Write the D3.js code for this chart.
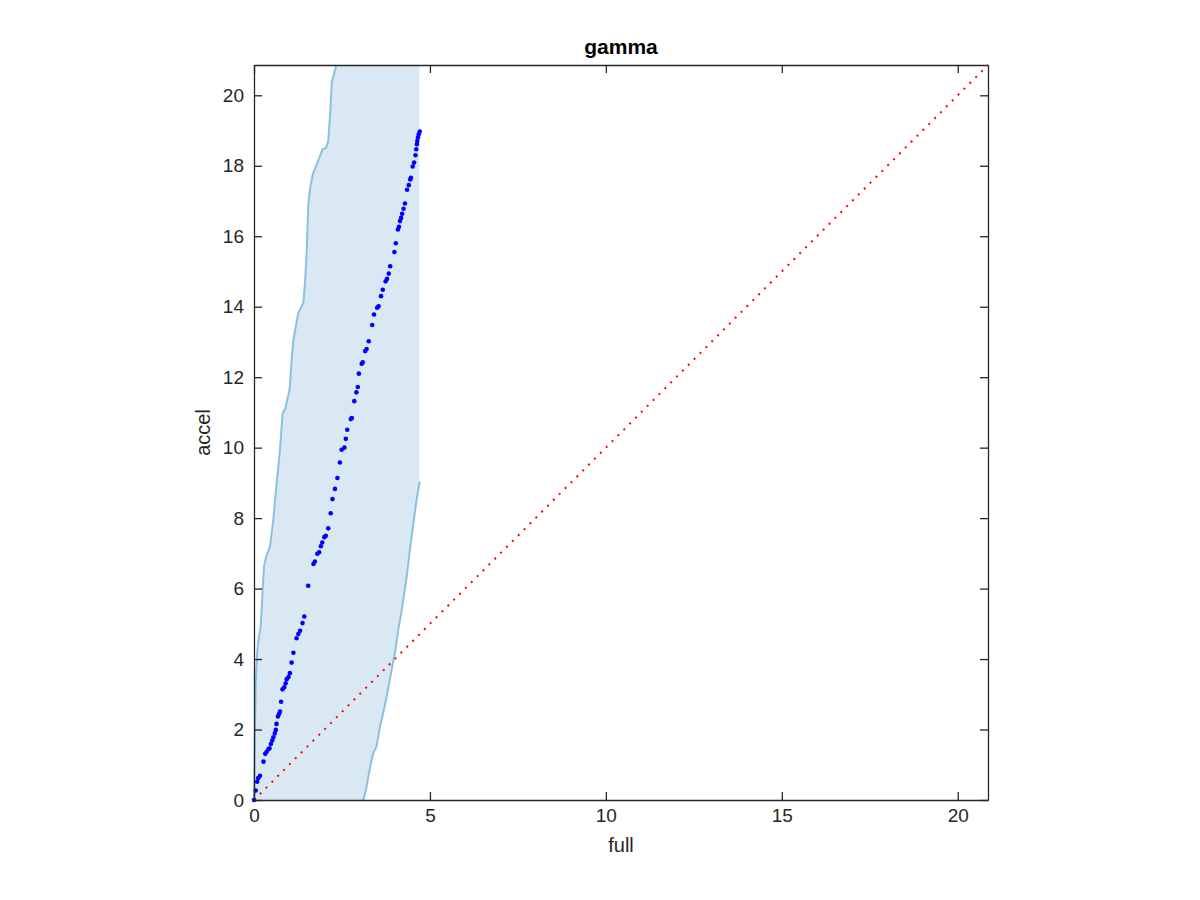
<!DOCTYPE html>
<html>
<head>
<meta charset="utf-8">
<title>gamma</title>
<script src="https://d3js.org/d3.v7.min.js"></script>
<style>
body { margin: 0; background: #fff; }
svg { font-family: Helvetica, "Liberation Sans", Arial, sans-serif; }
.axis path, .axis line { stroke: #262626; }
.axis text { fill: #262626; }
</style>
</head>
<body>
<script>
// sorted quantiles, accel run vs full run
var fullVals = [0, 0.05, 0.09, 0.12, 0.17, 0.27, 0.32, 0.36, 0.41, 0.44, 0.48, 0.52, 0.55, 0.59, 0.62, 0.64, 0.68, 0.71, 0.74, 0.77,
  0.81, 0.86, 0.90, 0.93, 0.98, 1.02, 1.07, 1.12, 1.21, 1.26, 1.31, 1.38, 1.43, 1.54, 1.69, 1.73, 1.80, 1.85, 1.90, 1.94,
  2.00, 2.04, 2.11, 2.18, 2.23, 2.30, 2.37, 2.44, 2.49, 2.57, 2.61, 2.65, 2.75, 2.78, 2.85, 2.91, 2.95, 2.98, 3.06, 3.09,
  3.16, 3.20, 3.26, 3.36, 3.41, 3.50, 3.54, 3.61, 3.66, 3.74, 3.78, 3.83, 3.87, 3.99, 4.03, 4.09, 4.12, 4.15, 4.18, 4.21,
  4.25, 4.29, 4.35, 4.40, 4.44, 4.46, 4.51, 4.55, 4.59, 4.61, 4.63, 4.64, 4.66, 4.68, 4.71];
var accelVals = [0, 0.27, 0.52, 0.62, 0.69, 1.09, 1.31, 1.37, 1.44, 1.47, 1.59, 1.69, 1.78, 1.89, 1.99, 2.16, 2.37, 2.44, 2.51, 2.79,
  3.14, 3.20, 3.31, 3.43, 3.49, 3.60, 3.90, 4.18, 4.59, 4.71, 4.80, 5.02, 5.21, 6.08, 6.70, 6.77, 6.99, 7.03, 7.20, 7.31,
  7.46, 7.50, 7.71, 8.14, 8.54, 8.83, 9.14, 9.58, 9.94, 10.00, 10.25, 10.51, 10.81, 10.84, 11.32, 11.57, 11.72, 12.10, 12.38, 12.42,
  12.74, 12.80, 13.02, 13.48, 13.78, 13.97, 14.01, 14.30, 14.48, 14.72, 14.79, 14.94, 15.15, 15.55, 15.80, 16.19, 16.27, 16.43, 16.52, 16.64,
  16.78, 16.93, 17.32, 17.45, 17.61, 17.66, 17.98, 18.09, 18.30, 18.47, 18.61, 18.70, 18.80, 18.89, 18.97];

// envelope: upper bound (left curve) and lower bound (right curve)
var upperFull = [0, 0.02, 0.05, 0.094, 0.142, 0.19, 0.246, 0.284, 0.341, 0.455, 0.549, 0.644, 0.739, 0.815, 0.88, 1.0, 1.02, 1.07, 1.12, 1.26,
  1.40, 1.45, 1.50, 1.54, 1.59, 1.67, 1.80, 1.95, 2.05, 2.11, 2.16, 2.21, 2.34];
var upperAccel = [0, 1.5, 3.3, 4.26, 4.64, 4.92, 5.97, 6.63, 6.89, 7.2, 7.95, 9.0, 9.94, 10.99, 11.08, 11.6, 11.74, 12.5, 13.07, 13.83,
  14.1, 14.68, 15.63, 16.86, 17.33, 17.76, 18.09, 18.47, 18.51, 18.70, 19.41, 20.36, 20.86];
var lowerFull = [3.105, 3.18, 3.25, 3.34, 3.39, 3.48, 3.58, 3.67, 3.77, 3.84, 3.91, 4.02, 4.10, 4.20, 4.34, 4.43, 4.53, 4.62, 4.71];
var lowerAccel = [0, 0.28, 0.66, 1.14, 1.33, 1.51, 2.08, 2.46, 2.93, 3.31, 3.69, 4.26, 4.83, 5.40, 6.34, 7.1, 7.86, 8.52, 9.04];
var bandEdge = 4.70;

var xTicks = [0, 5, 10, 15, 20];
var yTicks = [0, 2, 4, 6, 8, 10, 12, 14, 16, 18, 20];
var lim = 20.86;

var W = 1200, H = 900;
var m = {left: 254, right: 988, top: 65, bottom: 800};

var svg = d3.select("body").append("svg").attr("width", W).attr("height", H);

var x = d3.scaleLinear().domain([0, lim]).range([m.left, m.right]);
var y = d3.scaleLinear().domain([0, lim]).range([m.bottom, m.top]);

var upper = upperFull.map(function(d, i) { return [d, upperAccel[i]]; });
var lower = lowerFull.map(function(d, i) { return [d, lowerAccel[i]]; });

// band polygon: up the left curve, across the top, down the edge, down the right curve
var poly = upper.slice();
poly.push([bandEdge, lim]);
poly.push([bandEdge, lowerAccel[lowerAccel.length - 1]]);
lower.slice().reverse().forEach(function(p) { poly.push(p); });

var line = d3.line().x(function(d) { return x(d[0]); }).y(function(d) { return y(d[1]); });

svg.append("path").attr("d", line(poly) + "Z")
  .attr("fill", "#d9e8f3").attr("stroke", "none");
svg.append("path").attr("d", line(upper))
  .attr("fill", "none").attr("stroke", "#8cc0e0").attr("stroke-width", 2);
svg.append("path").attr("d", line(lower))
  .attr("fill", "none").attr("stroke", "#8cc0e0").attr("stroke-width", 2);

// reference line y = x
svg.append("path").attr("d", line([[0, 0], [lim, lim]]))
  .attr("fill", "none").attr("stroke", "#ff0000").attr("stroke-width", 2)
  .attr("stroke-dasharray", "2,6.3");

svg.selectAll(".pt")
  .data(fullVals)
  .enter().append("circle")
  .attr("class", "pt")
  .attr("cx", function(d) { return x(d); })
  .attr("cy", function(d, i) { return y(accelVals[i]); })
  .attr("r", 2.3)
  .attr("fill", "#0000ff");

// axes, ticks inside, box on
var fs = "19px";
var gx = svg.append("g").attr("class", "axis").attr("transform", "translate(0," + m.bottom + ")")
  .call(d3.axisBottom(x).tickValues(xTicks).tickFormat(d3.format("d")).tickSizeInner(-8).tickSizeOuter(0).tickPadding(9));
var gy = svg.append("g").attr("class", "axis").attr("transform", "translate(" + m.left + ",0)")
  .call(d3.axisLeft(y).tickValues(yTicks).tickFormat(d3.format("d")).tickSizeInner(-8).tickSizeOuter(0).tickPadding(10));
var gt = svg.append("g").attr("class", "axis").attr("transform", "translate(0," + m.top + ")")
  .call(d3.axisTop(x).tickValues(xTicks).tickFormat("").tickSizeInner(-8).tickSizeOuter(0));
var gr = svg.append("g").attr("class", "axis").attr("transform", "translate(" + m.right + ",0)")
  .call(d3.axisRight(y).tickValues(yTicks).tickFormat("").tickSizeInner(-8).tickSizeOuter(0));
[gx, gy, gt, gr].forEach(function(g) {
  g.selectAll("text").style("font-size", fs).style("font-family", null);
  g.select(".domain").attr("stroke-width", 1.3);
  g.selectAll(".tick line").attr("stroke-width", 1.3);
});

svg.append("text").attr("x", (m.left + m.right) / 2).attr("y", 54)
  .attr("text-anchor", "middle").style("font-size", "21px").style("font-weight", "bold")
  .attr("fill", "#000").text("gamma");
svg.append("text").attr("x", (m.left + m.right) / 2).attr("y", 852)
  .attr("text-anchor", "middle").style("font-size", "20px").attr("fill", "#262626").text("full");
svg.append("text").attr("transform", "translate(210," + ((m.top + m.bottom) / 2) + ") rotate(-90)")
  .attr("text-anchor", "middle").style("font-size", "20px").attr("fill", "#262626").text("accel");
</script>
</body>
</html>
